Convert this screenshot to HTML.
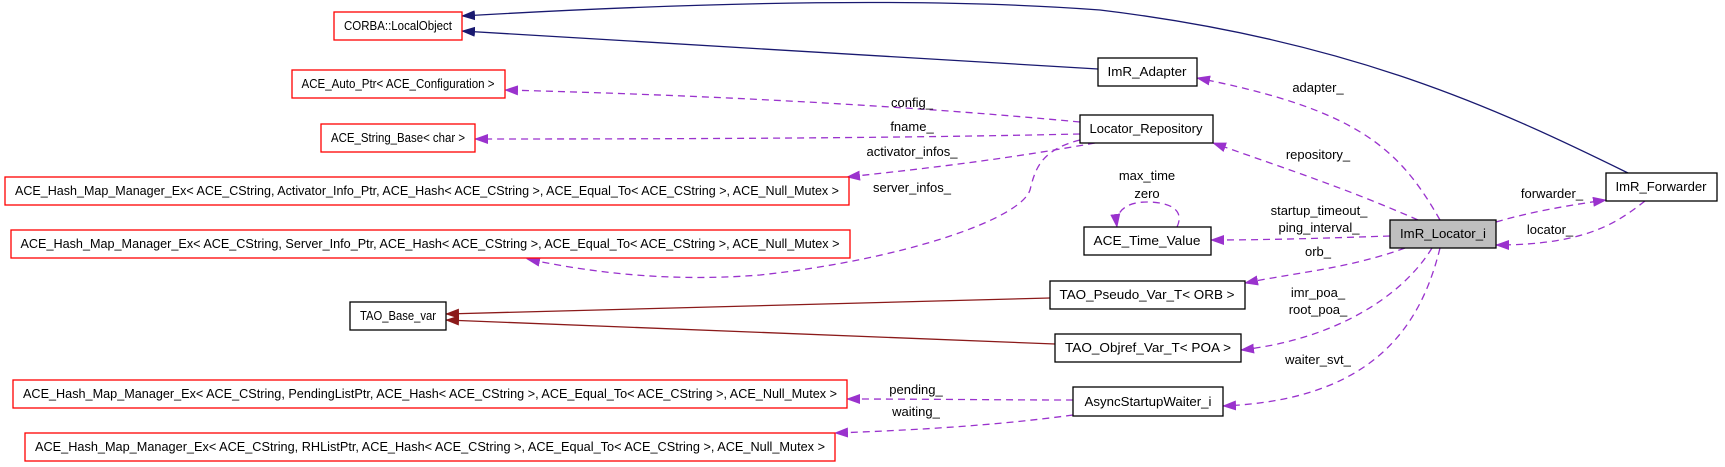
<!DOCTYPE html>
<html><head><meta charset="utf-8"><style>
html,body{margin:0;padding:0;background:#fff;}
svg{display:block;}
text{font-family:"Liberation Sans",Arial,sans-serif;font-size:13px;fill:#000;}
</style></head><body>
<svg width="1725" height="467" viewBox="0 0 1725 467" xmlns="http://www.w3.org/2000/svg">
<defs>
<marker id="mp" markerWidth="14" markerHeight="10" refX="13" refY="5" orient="auto" markerUnits="userSpaceOnUse"><path d="M0,0 L14,5 L0,10 z" fill="#9a32cd"/></marker>
<marker id="mn" markerWidth="14" markerHeight="10" refX="13" refY="5" orient="auto" markerUnits="userSpaceOnUse"><path d="M0,0 L14,5 L0,10 z" fill="#191970"/></marker>
<marker id="mr" markerWidth="14" markerHeight="10" refX="13" refY="5" orient="auto" markerUnits="userSpaceOnUse"><path d="M0,0 L14,5 L0,10 z" fill="#8b1a1a"/></marker>
</defs>
<!-- navy inheritance -->
<g fill="none" stroke="#191970" stroke-width="1.3">
<path d="M1628,173 C1500,110 1350,40 1100,10 C900,-5 650,5 462,16" marker-end="url(#mn)"/>
<path d="M1098,69 L462,31" marker-end="url(#mn)"/>
</g>
<!-- dark red -->
<g fill="none" stroke="#8b1a1a" stroke-width="1.3">
<path d="M1050,298 L446,314" marker-end="url(#mr)"/>
<path d="M1055,344 L446,320" marker-end="url(#mr)"/>
</g>
<!-- purple dashed -->
<g fill="none" stroke="#9a32cd" stroke-width="1.3" stroke-dasharray="7,5">
<path d="M1080,122 C900,105 700,95 505,90" marker-end="url(#mp)"/>
<path d="M1080,134 C900,138 700,139 475,139" marker-end="url(#mp)"/>
<path d="M1095,143 C1000,160 930,168 847,177" marker-end="url(#mp)"/>
<path d="M1080,140 C1040,150 1035,170 1030,190 C1020,220 900,260 760,275 C660,283 580,270 527,259" marker-end="url(#mp)"/>
<path d="M1440,220 C1400,150 1360,110 1197,78" marker-end="url(#mp)"/>
<path d="M1418,220 C1350,190 1290,170 1213,143" marker-end="url(#mp)"/>
<path d="M1177,227 C1185,210 1170,202 1147,202 C1125,202 1115,212 1117,227" marker-end="url(#mp)"/>
<path d="M1390,236 C1330,238 1270,240 1211,240" marker-end="url(#mp)"/>
<path d="M1405,248 C1350,268 1300,272 1245,283" marker-end="url(#mp)"/>
<path d="M1432,248 C1400,300 1330,340 1241,350" marker-end="url(#mp)"/>
<path d="M1440,248 C1420,330 1370,400 1223,406" marker-end="url(#mp)"/>
<path d="M1496,222 C1530,212 1570,205 1606,200" marker-end="url(#mp)"/>
<path d="M1645,201 C1620,220 1590,245 1496,245" marker-end="url(#mp)"/>
<path d="M1073,400 C1000,400 920,399 847,399" marker-end="url(#mp)"/>
<path d="M1073,415 C1000,425 920,430 835,433" marker-end="url(#mp)"/>
</g>
<!-- boxes -->
<g stroke-width="1.3" fill="#fff">
<rect x="334" y="12" width="128" height="28" stroke="#ff0000"/>
<rect x="292" y="70" width="213" height="28" stroke="#ff0000"/>
<rect x="321" y="124" width="154" height="28" stroke="#ff0000"/>
<rect x="5" y="177" width="844" height="28" stroke="#ff0000"/>
<rect x="11" y="230" width="839" height="28" stroke="#ff0000"/>
<rect x="350" y="302" width="96" height="28" stroke="#000"/>
<rect x="13" y="380" width="834" height="28" stroke="#ff0000"/>
<rect x="25" y="433" width="810" height="28" stroke="#ff0000"/>
<rect x="1098" y="58" width="99" height="28" stroke="#000"/>
<rect x="1080" y="115" width="133" height="28" stroke="#000"/>
<rect x="1084" y="227" width="127" height="28" stroke="#000"/>
<rect x="1050" y="281" width="195" height="28" stroke="#000"/>
<rect x="1055" y="334" width="186" height="28" stroke="#000"/>
<rect x="1073" y="387" width="150" height="29" stroke="#000"/>
<rect x="1390" y="220" width="106" height="28" stroke="#000" fill="#bfbfbf"/>
<rect x="1606" y="173" width="111" height="28" stroke="#000"/>
</g>
<g text-anchor="middle">
<text x="398" y="30" textLength="108" lengthAdjust="spacingAndGlyphs">CORBA::LocalObject</text>
<text x="398" y="88" textLength="193" lengthAdjust="spacingAndGlyphs">ACE_Auto_Ptr&lt; ACE_Configuration &gt;</text>
<text x="398" y="142" textLength="134" lengthAdjust="spacingAndGlyphs">ACE_String_Base&lt; char &gt;</text>
<text x="427" y="195" textLength="824" lengthAdjust="spacingAndGlyphs">ACE_Hash_Map_Manager_Ex&lt; ACE_CString, Activator_Info_Ptr, ACE_Hash&lt; ACE_CString &gt;, ACE_Equal_To&lt; ACE_CString &gt;, ACE_Null_Mutex &gt;</text>
<text x="430" y="248" textLength="819" lengthAdjust="spacingAndGlyphs">ACE_Hash_Map_Manager_Ex&lt; ACE_CString, Server_Info_Ptr, ACE_Hash&lt; ACE_CString &gt;, ACE_Equal_To&lt; ACE_CString &gt;, ACE_Null_Mutex &gt;</text>
<text x="398" y="320" textLength="76" lengthAdjust="spacingAndGlyphs">TAO_Base_var</text>
<text x="430" y="398" textLength="814" lengthAdjust="spacingAndGlyphs">ACE_Hash_Map_Manager_Ex&lt; ACE_CString, PendingListPtr, ACE_Hash&lt; ACE_CString &gt;, ACE_Equal_To&lt; ACE_CString &gt;, ACE_Null_Mutex &gt;</text>
<text x="430" y="451" textLength="790" lengthAdjust="spacingAndGlyphs">ACE_Hash_Map_Manager_Ex&lt; ACE_CString, RHListPtr, ACE_Hash&lt; ACE_CString &gt;, ACE_Equal_To&lt; ACE_CString &gt;, ACE_Null_Mutex &gt;</text>
<text x="1147" y="76" textLength="79" lengthAdjust="spacingAndGlyphs">ImR_Adapter</text>
<text x="1146" y="133" textLength="113" lengthAdjust="spacingAndGlyphs">Locator_Repository</text>
<text x="1147" y="245" textLength="107" lengthAdjust="spacingAndGlyphs">ACE_Time_Value</text>
<text x="1147" y="299" textLength="175" lengthAdjust="spacingAndGlyphs">TAO_Pseudo_Var_T&lt; ORB &gt;</text>
<text x="1148" y="352" textLength="166" lengthAdjust="spacingAndGlyphs">TAO_Objref_Var_T&lt; POA &gt;</text>
<text x="1148" y="406" textLength="127" lengthAdjust="spacingAndGlyphs">AsyncStartupWaiter_i</text>
<text x="1443" y="238" textLength="86" lengthAdjust="spacingAndGlyphs">ImR_Locator_i</text>
<text x="1661" y="191" textLength="91" lengthAdjust="spacingAndGlyphs">ImR_Forwarder</text>
<!-- edge labels -->
<text x="912" y="107">config_</text>
<text x="912" y="131">fname_</text>
<text x="912" y="156">activator_infos_</text>
<text x="912" y="192">server_infos_</text>
<text x="1318" y="92">adapter_</text>
<text x="1318" y="159">repository_</text>
<text x="1147" y="180">max_time</text>
<text x="1147" y="198">zero</text>
<text x="1319" y="215">startup_timeout_</text>
<text x="1319" y="232">ping_interval_</text>
<text x="1318" y="256">orb_</text>
<text x="1318" y="297">imr_poa_</text>
<text x="1318" y="314">root_poa_</text>
<text x="1318" y="364">waiter_svt_</text>
<text x="1552" y="198">forwarder_</text>
<text x="1550" y="234">locator_</text>
<text x="916" y="394">pending_</text>
<text x="916" y="416">waiting_</text>
</g>
</svg>
</body></html>
